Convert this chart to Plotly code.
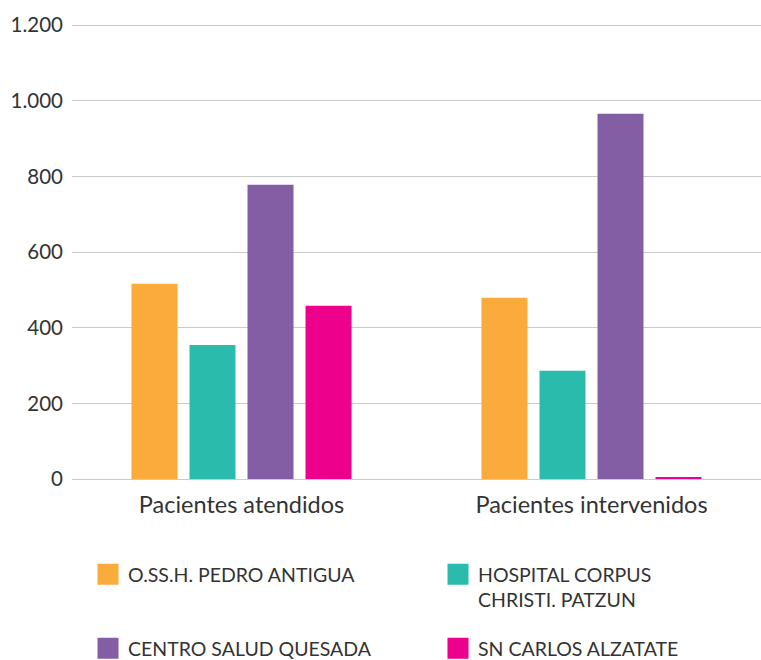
import plotly.graph_objects as go

categories = ["Pacientes atendidos", "Pacientes intervenidos"]
series_names = ["O.SS.H. PEDRO ANTIGUA", "HOSPITAL CORPUS<br>CHRISTI. PATZUN",
                "CENTRO SALUD QUESADA", "SN CARLOS ALZATATE"]
orange_vals = [516, 479]
teal_vals = [354, 286]
purple_vals = [778, 966]
pink_vals = [458, 3]
colors = ["#FBAA3C", "#2BBBAD", "#845EA5", "#EC008C"]
y_ticks = [0, 200, 400, 600, 800, 1000, 1200]

values = [orange_vals, teal_vals, purple_vals, pink_vals]
legend_ids = ["legend", "legend2", "legend3", "legend4"]
# legend box positions (container pixels: left, top)
legend_pos = [(88, 555), (438, 555), (88, 629), (438, 629)]

FONT = "Lato"
TXT = "#333333"
fig = go.Figure()
for name, vals, col in zip(series_names, values, colors):
    fig.add_trace(go.Bar(x=categories, y=vals, name=name, marker_color=col,
                         marker_line_width=0, showlegend=False))
# legend entries (larger square swatches)
for name, col, lg in zip(series_names, colors, legend_ids):
    fig.add_trace(go.Scatter(x=[None], y=[None], mode="markers", name=name,
                             marker=dict(symbol="square", size=16, color=col,
                                         line=dict(color=col, width=5)),
                             legend=lg, hoverinfo="skip"))

legend_common = dict(orientation="v", xanchor="left", yanchor="top",
                     xref="container", yref="container",
                     font=dict(family=FONT, size=19.5, color=TXT),
                     itemsizing="trace",
                     valign="top", bgcolor="rgba(0,0,0,0)")

legend_layout = {}
for lg, (lx, ly) in zip(legend_ids, legend_pos):
    legend_layout[lg] = dict(x=lx / 761, y=1 - ly / 660, **legend_common)

fig.update_layout(
    width=761, height=660,
    margin=dict(l=72, r=0, t=24, b=181, autoexpand=False),
    plot_bgcolor="white", paper_bgcolor="white",
    separators=",.",
    barmode="group", bargap=0.337, bargroupgap=0.207,
    font=dict(family=FONT, color=TXT),
    xaxis=dict(range=[-0.4843, 1.4843], showgrid=False, showline=False,
               tickfont=dict(family=FONT, size=23.5, color=TXT),
               ticks="", ticklabelstandoff=9, automargin=False, fixedrange=True),
    yaxis=dict(range=[0, 1203], tickvals=y_ticks, tickformat=",d",
               showgrid=True, gridcolor="#cacaca", gridwidth=1.3,
               zeroline=True, zerolinecolor="#cacaca", zerolinewidth=1.3,
               tickfont=dict(family=FONT, size=20.5, color=TXT),
               ticks="", ticklabelstandoff=8, automargin=False, fixedrange=True),
    **legend_layout,
)

fig.write_html("out.html", config={"displayModeBar": False},
               post_script="document.body.style.margin='0px';")
